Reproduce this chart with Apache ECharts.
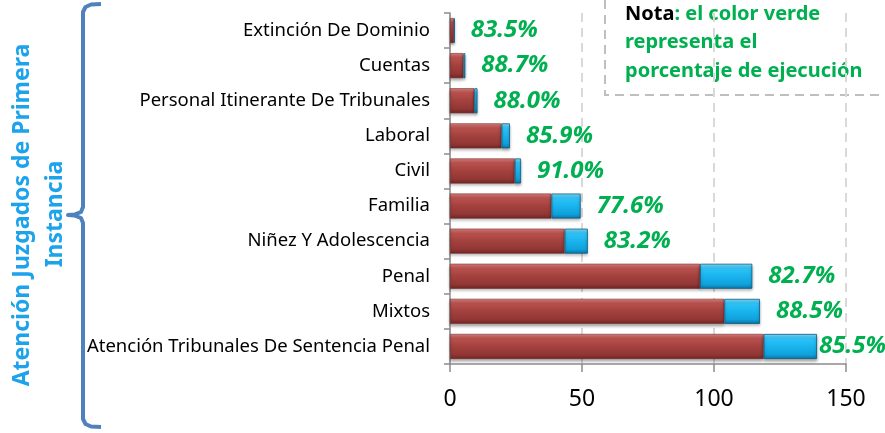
<!DOCTYPE html>
<html>
<head>
<meta charset="utf-8">
<script src="https://cdn.jsdelivr.net/npm/echarts@6/dist/echarts.min.js"></script>
<style>
  html, body { margin: 0; padding: 0; background: #fff; }
  #chart { width: 885px; height: 433px; }
</style>
</head>
<body>
<div id="chart"></div>
<script>
// categorias de arriba hacia abajo
var categorias = ['Extinción De Dominio', 'Cuentas', 'Personal Itinerante De Tribunales', 'Laboral', 'Civil',
  'Familia', 'Niñez Y Adolescencia', 'Penal', 'Mixtos', 'Atención Tribunales De Sentencia Penal'];
// parte ejecutada (rojo) y parte no ejecutada (azul)
var ejecutado = [1.5, 5.1, 9.2, 19.5, 24.5, 38.4, 43.4, 94.7, 103.9, 118.8];
var pendiente = [0.3, 0.7, 1.2, 3.2, 2.4, 11.1, 8.8, 19.8, 13.5, 20.2];
var porcentajes = ['83.5%', '88.7%', '88.0%', '85.9%', '91.0%', '77.6%', '83.2%', '82.7%', '88.5%', '85.5%'];
var ticksX = [0, 50, 100, 150];

var fuente = 'Noto Sans';
var verde = '#00B050';

var chart = echarts.init(document.getElementById('chart'));

var rojo = new echarts.graphic.LinearGradient(0, 0, 0, 1, [
  {offset: 0, color: '#dc8583'},
  {offset: 0.18, color: '#b9514e'},
  {offset: 0.5, color: '#a3413e'},
  {offset: 0.82, color: '#923735'},
  {offset: 1, color: '#6f2624'}
]);
var azul = new echarts.graphic.LinearGradient(0, 0, 0, 1, [
  {offset: 0, color: '#8ae0ff'},
  {offset: 0.18, color: '#2fc3f6'},
  {offset: 0.5, color: '#19b4ee'},
  {offset: 0.82, color: '#10a2dc'},
  {offset: 1, color: '#0876a6'}
]);

// datos del azul con la etiqueta de porcentaje; la ultima queda pegada al borde
var datosAzul = pendiente.map(function (v, i) {
  var d = {value: v};
  if (i === pendiente.length - 1) d.label = {distance: 2};
  return d;
});

// llave azul (decoracion)
var llave = [[101, 4], [91, 4.5], [85.5, 7], [83, 12], [83, 207], [81, 212], [75, 214.4], [68, 215],
  [75, 215.6], [81, 218], [83, 223], [83, 419], [85.5, 424], [91, 426.5], [101, 427]];

var option = {
  animation: false,
  grid: {left: 450, right: 39, top: 13, bottom: 69},
  xAxis: {
    type: 'value',
    min: ticksX[0],
    max: ticksX[ticksX.length - 1],
    interval: 50,
    axisLine: {show: true, lineStyle: {color: '#8c8c8c', width: 1.5}},
    axisTick: {show: true, length: 8, lineStyle: {color: '#8c8c8c', width: 1.5}},
    axisLabel: {fontFamily: fuente, fontSize: 23, color: '#000', margin: 24},
    splitLine: {show: true, lineStyle: {color: '#d9d9d9', width: 2, type: [9, 6]}}
  },
  yAxis: {
    type: 'category',
    inverse: true,
    data: categorias,
    axisLine: {show: true, lineStyle: {color: '#8c8c8c', width: 1.5}},
    axisTick: {show: true, length: 6, lineStyle: {color: '#8c8c8c', width: 1.5}},
    axisLabel: {fontFamily: fuente, fontSize: 18.5, color: '#000', margin: 20}
  },
  series: [
    {
      name: 'Ejecutado',
      type: 'bar',
      stack: 'total',
      barWidth: 25,
      data: ejecutado,
      itemStyle: {color: rojo, borderColor: '#7a2b29', borderWidth: 0.6,
        shadowBlur: 3, shadowColor: 'rgba(0,0,0,0.35)', shadowOffsetY: 2}
    },
    {
      name: 'Pendiente',
      type: 'bar',
      stack: 'total',
      barWidth: 25,
      data: datosAzul,
      itemStyle: {color: azul, borderColor: '#0b5a84', borderWidth: 0.8,
        shadowBlur: 3, shadowColor: 'rgba(0,0,0,0.35)', shadowOffsetY: 2},
      label: {
        show: true,
        position: 'right',
        distance: 16,
        formatter: function (p) { return porcentajes[p.dataIndex]; },
        fontFamily: fuente,
        fontSize: 24,
        fontWeight: 'bold',
        fontStyle: 'italic',
        color: verde
      }
    }
  ],
  graphic: [
    {
      type: 'polyline',
      shape: {points: llave},
      style: {fill: null, stroke: '#4F81BD', lineWidth: 4, lineJoin: 'round', lineCap: 'butt'}
    },
    {
      type: 'text', x: 22, y: 215, rotation: Math.PI / 2,
      style: {text: 'Atención Juzgados de Primera', fontFamily: fuente, fontSize: 23, fontWeight: 'bold',
        fill: '#1CA3EC', align: 'center', verticalAlign: 'middle'}
    },
    {
      type: 'text', x: 55, y: 214, rotation: Math.PI / 2,
      style: {text: 'Instancia', fontFamily: fuente, fontSize: 23, fontWeight: 'bold',
        fill: '#1CA3EC', align: 'center', verticalAlign: 'middle'}
    },
    // cuadro de nota
    {
      type: 'polyline',
      shape: {points: [[605, 0], [605, 95], [885, 95]]},
      style: {stroke: '#bfbfbf', lineWidth: 2, lineDash: [9, 6], fill: null}
    },
    {
      type: 'text', x: 625, y: 0,
      style: {
        text: '{n|Nota}{g|: el color verde}\n{g|representa el}\n{g|porcentaje de ejecución}',
        rich: {
          n: {fontFamily: fuente, fontSize: 20, fontWeight: 'bold', fill: '#000', lineHeight: 28.5},
          g: {fontFamily: fuente, fontSize: 20, fontWeight: 'bold', fill: verde, lineHeight: 28.5}
        }
      }
    }
  ]
};

chart.setOption(option);
</script>
</body>
</html>
